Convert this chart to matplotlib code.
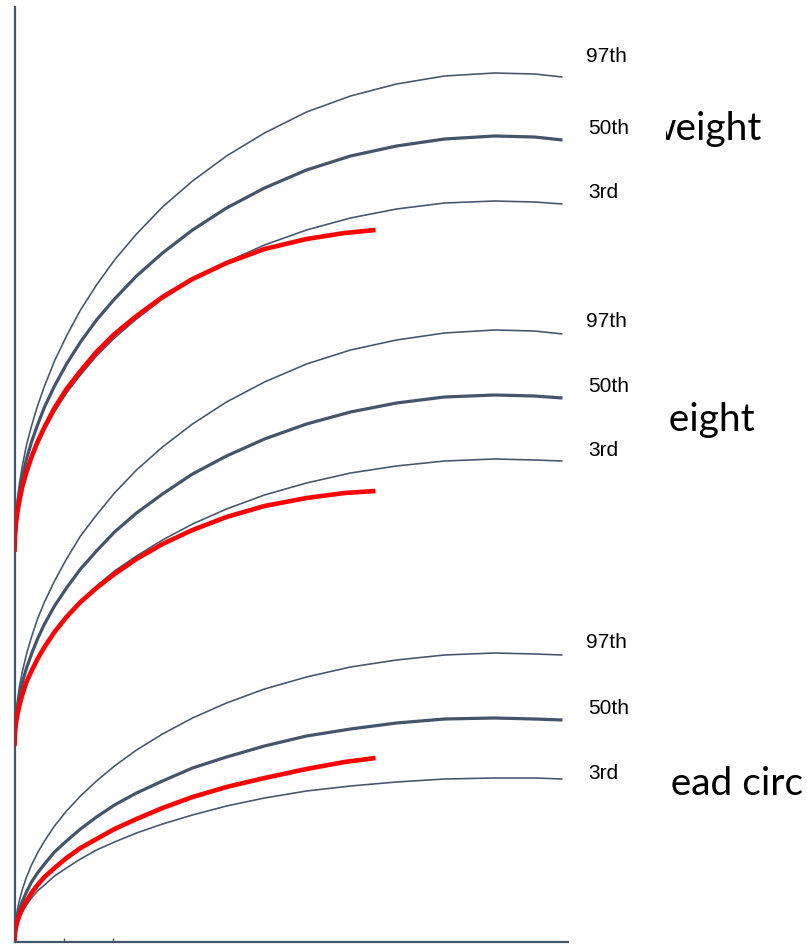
import matplotlib
matplotlib.use("Agg")
import matplotlib.pyplot as plt
from matplotlib.patches import Rectangle

# chart units: x = age along the axis, y = height above the baseline
pct_x = [0, 0.5, 1.5, 3, 5, 8, 12, 17, 23, 30, 40, 52, 66, 82, 100, 122, 148,
         178, 212, 250, 292, 336, 382, 430, 480, 520, 548]
child_x = [0, 0.5, 1.5, 3, 5, 8, 12, 17, 23, 30, 40, 52, 66, 82, 100, 122, 148,
           178, 212, 250, 292, 330, 361]

weight_97 = [391, 413, 429, 444, 459, 477, 497, 516, 536, 556, 581, 606, 632, 657,
             682, 708, 735, 761, 786, 809, 830, 846, 858, 866, 869, 868, 865]
weight_50 = [391, 410, 424, 437, 450, 466, 483, 500, 517, 535, 556, 578, 600, 622,
             643, 666, 689, 712, 734, 754, 772, 786, 796, 803, 806, 805, 802]
weight_3 = [391, 407, 418, 430, 441, 454, 468, 483, 497, 512, 530, 549, 567, 586,
            604, 623, 643, 662, 680, 697, 712, 724, 733, 739, 741, 740, 738]
weight_child = [390, 406, 419, 430, 442, 456, 470, 485, 500, 515, 534, 553, 571,
                590, 608, 626, 645, 663, 679, 693, 703, 709, 712]

height_97 = [196, 215, 229, 242, 256, 271, 288, 305, 323, 340, 361, 383, 406, 427,
             449, 472, 495, 518, 540, 560, 578, 592, 602, 609, 612, 611, 608]
height_50 = [196, 212, 224, 235, 246, 260, 274, 288, 303, 318, 336, 354, 373, 391,
             410, 429, 448, 468, 486, 503, 518, 530, 539, 545, 547, 546, 544]
height_3 = [196, 209, 219, 228, 237, 248, 259, 271, 283, 295, 310, 325, 341, 356,
            371, 386, 402, 418, 433, 447, 459, 469, 476, 481, 483, 482, 481]
height_child = [196, 209, 219, 228, 237, 248, 260, 271, 283, 295, 310, 325, 340,
                354, 368, 383, 398, 412, 425, 436, 444, 449, 451]

head_97 = [1, 14, 24, 33, 42, 53, 65, 77, 89, 101, 116, 131, 146, 161, 176, 192,
           208, 224, 239, 253, 265, 275, 282, 287, 289, 288, 287]
head_50 = [1, 11, 19, 26, 33, 41, 50, 60, 69, 78, 90, 101, 113, 125, 137, 149,
           161, 174, 185, 196, 206, 213, 219, 223, 224, 223, 222]
head_3 = [1, 8, 14, 19, 24, 30, 37, 44, 51, 57, 66, 74, 83, 92, 100, 109, 118, 127,
          136, 144, 151, 156, 160, 163, 164, 164, 163]
head_child = [1, 9, 15, 21, 27, 34, 41, 49, 57, 65, 74, 84, 94, 103, 113, 123, 134,
              145, 155, 164, 173, 180, 184]

pct_names = ["97th", "50th", "3rd"]
group_names = ["weight", "height", "head circ"]
tick_pos = [49, 98]

W, H = 807, 947
slate = "#44546A"

fig = plt.figure(figsize=(W / 100, H / 100), dpi=100)
ax = fig.add_axes([14.5 / W, 1 - 942 / H, (568 - 14.5) / W, (942 - 7) / H])
ax.set_xlim(0, 553.5)
ax.set_ylim(0, 935)

groups = [
    (weight_97, weight_50, weight_3, weight_child),
    (height_97, height_50, height_3, height_child),
    (head_97, head_50, head_3, head_child),
]
for p97, p50, p3, child in groups:
    ax.plot(pct_x, p97, color=slate, lw=1.15, solid_capstyle="butt")
    ax.plot(pct_x, p50, color=slate, lw=2.3, solid_capstyle="butt")
    ax.plot(pct_x, p3, color=slate, lw=1.15, solid_capstyle="butt")
    ax.plot(child_x, child, color="#FF0000", lw=3.3, solid_capstyle="butt", zorder=3)

for s in ["top", "right"]:
    ax.spines[s].set_visible(False)
for s in ["left", "bottom"]:
    ax.spines[s].set_color(slate)
    ax.spines[s].set_linewidth(1.6)
ax.set_yticks([])
ax.set_xticks(tick_pos)
ax.set_xticklabels([])
ax.tick_params(axis="x", direction="in", length=3, width=1, color=slate)

def fx(px):
    return px / W

def fy(py):
    return 1 - py / H

# big group titles, partly hidden behind the white label boxes
fig.text(fx(762), fy(140), group_names[0], fontsize=28, family="Lato",
         ha="right", va="baseline", zorder=2)
fig.text(fx(755), fy(431), group_names[1], fontsize=28, family="Lato",
         ha="right", va="baseline", zorder=2)
fig.text(fx(803), fy(795), group_names[2], fontsize=28, family="Lato",
         ha="right", va="baseline", zorder=2)
for top, bot, right in [(95, 160, 666), (390, 450, 670), (750, 810, 670)]:
    fig.patches.append(Rectangle((fx(572), fy(bot)), fx(right) - fx(572), (bot - top) / H,
                                 transform=fig.transFigure, facecolor="white",
                                 edgecolor="none", zorder=4))

label_rows = [(57, 128, 192), (321, 386, 450), (643, 708, 773)]
for rows in label_rows:
    for name, py, px in zip(pct_names, rows, [586, 588, 588]):
        fig.text(fx(px), fy(py), name, fontsize=15, family="Liberation Sans",
                 ha="left", va="center", zorder=5)

fig.savefig("out.png", dpi=100)
